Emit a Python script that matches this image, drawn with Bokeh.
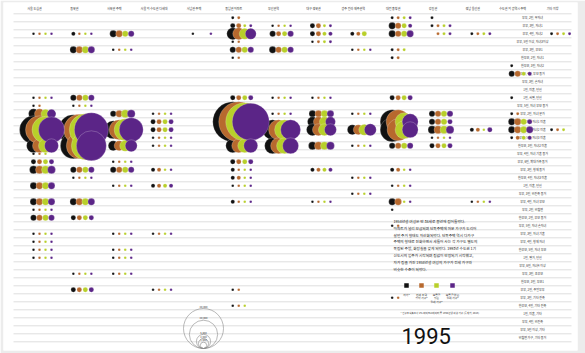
import math
from bokeh.plotting import figure
from bokeh.models import Range1d
from bokeh.core.properties import value
from bokeh.embed import file_html
from bokeh.resources import INLINE

# ---------------- data ----------------
columns = ["서울 도심권", "동북권", "서북권 주택", "서울 외 수도권 다세대", "서남권 주택",
           "동남권 아파트", "부산권역", "대구 경북권", "광주 전라 제주권역", "대전 충청권",
           "강원권", "경남 울산권", "수도권 외 광역시 주택", "기타 지방"]

row_labels = [
    "부부, 2인, 무자녀", "부부, 3인, 자녀1", "부부, 4인, 자녀2", "부부, 5인 이상, 자녀3이상",
    "부부, 3인, 부모1", "한부모, 2인, 자녀1", "한부모, 3인, 자녀2", "부부, 4인, 부모 동거",
    "부부, 3인, 손자녀", "1인, 미혼, 단신", "1인, 사별, 단신", "부부, 5인, 자녀 부모 동거",
    "부부, 2인, 자녀 분가", "부부, 3인, 자녀1 미혼", "부부, 4인, 자녀2 미혼", "부부, 5인, 자녀3 미혼",
    "한부모, 3인, 자녀2 미혼", "부부, 4인, 자녀 기혼 동거", "부부, 6인, 확대가족 동거", "부부, 3인, 형제 동거",
    "한부모, 4인, 자녀3 미혼", "1인, 이혼, 단신", "부부, 3인, 비친족 동거", "부부, 4인, 자녀 부모",
    "부부, 2인, 비혈연", "한부모, 2인, 부모 동거", "부부, 5인, 자녀 손자녀", "부부, 3인, 자녀 기혼",
    "부부, 4인, 형제 자녀", "한부모, 5인, 자녀 부모", "1인, 별거, 단신", "부부, 6인, 자녀4 이상",
    "부부, 3인, 조부모", "한부모, 3인, 부모1", "부부, 2인, 주말부부", "부부, 3인, 기타 친족",
    "한부모, 4인, 기타 친족", "1인, 미혼, 기타", "부부, 4인, 비친족", "부부, 5인 이상, 기타",
    "비혈연 가구, 기타 동거",
]

series_names = [["자가*"], ["전세 주택", "임차 가구*"], ["보증금", "있는", "월세 가구*"], ["보증금 없는", "월세 가구*"]]
series_colors = ["#111111", "#b7692e", "#b8cf2a", "#5b2587"]

# one entry per (row, column) cell; households in each tenure type
cell_row = [0, 0, 0, 1, 1, 1, 1, 1,
            2, 2, 2, 2, 2, 2, 2, 2, 2, 2, 2, 2,
            3, 3, 4, 4, 4, 4, 4, 4, 5, 5, 6, 7,
            10, 10, 10, 10, 10, 10, 10, 11, 11, 11,
            12, 12, 12, 12, 12, 12, 12, 12,
            13, 13, 13, 13, 13, 13,
            14, 14, 14, 14, 14, 14, 14, 14, 14, 14, 14, 14,
            15, 15, 15,
            16, 16, 16, 16, 16, 16, 16, 16, 16, 16,
            17, 18, 18, 18, 19, 19, 19, 19, 19, 19, 19,
            20, 20, 20, 21, 21, 21, 21, 21, 22,
            23, 23, 23, 23, 23, 23, 24, 24, 25, 25, 26,
            27, 27, 27, 28, 29, 29, 30, 30, 32, 32,
            34, 34, 34, 35, 36]
cell_col = [6, 10, 11, 6, 7, 8, 10, 11,
            1, 2, 3, 5, 6, 7, 8, 9, 10, 11, 12, 14,
            6, 8, 2, 3, 6, 7, 9, 10, 6, 10, 13, 13,
            1, 2, 6, 7, 8, 10, 13, 1, 2, 6,
            1, 3, 4, 7, 8, 9, 11, 13,
            4, 6, 8, 10, 11, 13,
            1, 2, 3, 4, 7, 8, 9, 10, 11, 12, 13, 14,
            4, 11, 13,
            1, 2, 3, 4, 6, 7, 8, 9, 10, 11,
            1, 1, 3, 6, 1, 2, 3, 4, 6, 8, 10,
            2, 6, 9, 1, 3, 4, 6, 10, 9,
            1, 2, 6, 8, 10, 12, 1, 10, 1, 2, 10,
            1, 3, 4, 1, 1, 3, 1, 3, 2, 3,
            2, 4, 6, 10, 6]
own = [220, 220, 220, 620, 170, 620, 1200, 220,
       170, 400, 1200, 170, 3600, 900, 620, 400, 1200, 0, 220, 220,
       170, 170, 1200, 170, 900, 1200, 170, 220, 170, 220, 220, 900,
       170, 900, 620, 170, 170, 620, 220, 170, 170, 170,
       2500, 900, 170, 170, 1200, 170, 900, 220,
       620, 40000, 2500, 14400, 900, 1200,
       19600, 22500, 8100, 620, 10000, 3600, 2500, 14400, 1600, 400, 1200, 220,
       170, 170, 220,
       4900, 16900, 2500, 170, 4900, 6400, 1600, 170, 900, 620,
       170, 620, 170, 620, 1600, 900, 900, 400, 400, 400, 400,
       170, 400, 170, 1200, 170, 400, 170, 170, 170,
       1200, 1200, 400, 170, 1200, 170, 170, 170, 900, 620, 170,
       170, 170, 170, 170, 170, 170, 170, 170, 170, 170,
       620, 170, 170, 170, 170]
jeonse = [220, 220, 0, 620, 170, 620, 900, 220,
          170, 170, 1200, 0, 3600, 620, 620, 400, 900, 220, 220, 220,
          170, 220, 1200, 170, 900, 900, 170, 220, 170, 220, 0, 900,
          170, 900, 620, 170, 170, 620, 0, 170, 170, 170,
          2500, 1200, 170, 170, 1200, 170, 900, 220,
          620, 40000, 2500, 14400, 900, 1200,
          19600, 24000, 10000, 620, 10000, 3600, 2500, 12100, 1600, 400, 1200, 220,
          170, 170, 400,
          4900, 16900, 2500, 170, 4900, 6400, 1600, 170, 900, 620,
          170, 620, 170, 620, 1600, 900, 900, 400, 170, 400, 400,
          170, 400, 170, 1200, 170, 400, 170, 170, 170,
          1200, 1200, 170, 170, 1200, 170, 170, 0, 900, 620, 170,
          170, 170, 170, 170, 170, 170, 170, 170, 170, 170,
          620, 170, 170, 170, 170]
monthly_dep = [0, 220, 0, 220, 170, 220, 620, 220,
               170, 170, 900, 0, 3000, 620, 400, 620, 900, 220, 220, 220,
               0, 220, 1200, 170, 900, 900, 170, 220, 0, 0, 0, 400,
               170, 900, 620, 170, 170, 620, 0, 0, 170, 170,
               2000, 1600, 170, 170, 1200, 170, 900, 0,
               620, 36100, 2500, 8100, 900, 900,
               18200, 25600, 12100, 620, 10000, 3600, 3000, 8100, 1600, 170, 1200, 220,
               170, 170, 400,
               4900, 19600, 3000, 170, 4900, 6400, 1600, 170, 900, 620,
               170, 620, 170, 620, 1600, 900, 900, 170, 170, 400, 170,
               170, 170, 170, 1200, 170, 400, 170, 170, 170,
               1200, 1200, 170, 170, 170, 170, 170, 0, 900, 620, 0,
               170, 170, 170, 170, 170, 170, 170, 170, 170, 170,
               620, 170, 0, 0, 170]
monthly_nodep = [0, 220, 0, 220, 170, 220, 400, 220,
                 170, 170, 900, 170, 3000, 900, 400, 0, 1200, 220, 220, 220,
                 0, 220, 1200, 170, 900, 900, 170, 0, 0, 0, 0, 400,
                 170, 900, 620, 170, 170, 620, 0, 0, 170, 170,
                 2000, 1600, 170, 170, 1200, 170, 900, 0,
                 620, 34200, 2500, 6400, 620, 620,
                 16900, 28900, 14400, 620, 10000, 3600, 3600, 6400, 1600, 620, 1200, 0,
                 170, 170, 400,
                 4900, 22500, 3600, 170, 4900, 6400, 1600, 170, 900, 620,
                 0, 620, 170, 620, 1600, 900, 900, 170, 170, 400, 170,
                 170, 170, 170, 1200, 170, 400, 170, 170, 170,
                 1200, 1200, 170, 170, 170, 170, 170, 0, 900, 620, 0,
                 170, 170, 170, 170, 170, 170, 170, 170, 170, 170,
                 620, 170, 0, 0, 0]

size_legend_values = [40000, 20000, 5000, 2500, 1000]
size_legend_labels = ["40,000", "20,000", "5,000", "2,500", "1,000"]

paragraph = [
    "1958년생 여성은 만 38세로 중년에 접어들었다.",
    "아파트가 널리 보급되며 단독주택에 머문 가구가 도리어",
    "살던 주거 형태도 자산화되었다. 단독주택 역시 다가구",
    "주택의 형태로 진화하면서 세들어 사는 각 가구도 별도의",
    "독립된 주방, 화장실을 갖게 되었다. 1993년 수도권 1기",
    "신도시의 입주가 시작되며 집값이 안정되기 시작했고,",
    "자가 집을 가진 1958년생 여성의 가구가 전세 가구와",
    "비슷한 수준이 되었다.",
]
footnote = "* 인구주택총조사 2% 마이크로데이터 중 1958년생 여성 가구 (통계청, 2016)"
year_label = "1995"

# ---------------- layout helpers ----------------
X0, DX = 33.0, 39.85     # pixel x of first column, column spacing
Y0, DY = 17.3, 8.0       # pixel y of first row, row spacing
OFF = 6.0                # pixel offset between the four tenure circles
KR = value("Noto Sans CJK KR")


def px_x(px):
    return (px - X0) / DX


def px_y(py):
    return (py - Y0) / DY


def rad(v):
    return math.sqrt(v) / 10.0


W, H = 585, 353
p = figure(width=W, height=H, output_backend="svg", toolbar_location=None,
           x_axis_location=None, y_axis_location=None,
           x_range=Range1d(px_x(3), px_x(577)), y_range=Range1d(px_y(350), px_y(2)),
           min_border_left=3, min_border_right=8, min_border_top=2, min_border_bottom=3)
p.border_fill_color = "#ececec"
p.background_fill_color = "#ffffff"
p.outline_line_color = None
p.xgrid.visible = False
p.ygrid.visible = False

# row separator lines
n_rows = len(row_labels)
ys = [k - 0.5 for k in range(n_rows + 1)]
p.segment(x0=[px_x(13)] * len(ys), x1=[px_x(571)] * len(ys), y0=ys, y1=ys,
          line_color="#dedede", line_width=1)

# column headers
p.text(x=[i + px_x(34) for i in range(len(columns))], y=[px_y(8.5)] * len(columns), text=columns,
       text_font=KR, text_font_size=value("3px"), text_color="#333333",
       text_align="center", text_baseline="middle")

# row labels
p.text(x=[px_x(532)] * n_rows, y=list(range(n_rows)), text=row_labels,
       text_font=KR, text_font_size=value("3px"), text_color="#333333",
       text_align="center", text_baseline="middle")

# circles, one layer per tenure type
for j, vals in enumerate([own, jeonse, monthly_dep, monthly_nodep]):
    xs, yv, sz = [], [], []
    for r, c, v in zip(cell_row, cell_col, vals):
        if v > 0:
            xs.append(c - 1 + j * OFF / DX)
            yv.append(r)
            sz.append(2 * rad(v))
    p.scatter(x=xs, y=yv, size=sz, marker="circle", fill_color=series_colors[j],
              line_color="white", line_alpha=0.45, line_width=0.5)

# paragraph
para_y = [220.8 + 6.85 * i for i in range(len(paragraph))]
p.text(x=[px_x(393)] * len(paragraph), y=[px_y(v) for v in para_y], text=paragraph,
       text_font=KR, text_font_size=value("3.7px"), text_color="#222222",
       text_align="left", text_baseline="middle")

# tenure legend
leg_x = [406, 421, 436, 452]
p.scatter(x=[px_x(v) for v in leg_x], y=[px_y(285)] * 4, marker="square", size=4.5,
          fill_color=series_colors, line_color=None)
lx, ly, lt = [], [], []
for xpx, lines in zip(leg_x, series_names):
    for i, t in enumerate(lines):
        lx.append(px_x(xpx))
        ly.append(px_y(294 + 3.6 * i))
        lt.append(t)
p.text(x=lx, y=ly, text=lt, text_font=KR, text_font_size=value("2.8px"), text_color="#333333",
       text_align="center", text_baseline="middle")

# footnote
p.text(x=[px_x(400)], y=[px_y(312)], text=[footnote], text_font=KR, text_font_size=value("2.5px"),
       text_color="#333333", text_align="left", text_baseline="middle")

# year
p.text(x=[px_x(401)], y=[px_y(335)], text=[year_label], text_font=value("Roboto"),
       text_font_size=value("22px"), text_color="#111111", text_align="left",
       text_baseline="middle")

# size legend (nested circles, bottom aligned)
cx, base = 203, 348
sr = [rad(v) for v in size_legend_values]
p.scatter(x=[px_x(cx)] * len(sr), y=[px_y(base - r) for r in sr], size=[2 * r for r in sr],
          marker="circle", fill_color=None, line_color="#8a8a8a", line_width=0.6)
p.text(x=[px_x(cx)] * len(sr), y=[px_y(base - 2 * r - 0.8) for r in sr], text=size_legend_labels,
       text_font=KR, text_font_size=value("2.6px"), text_color="#444444",
       text_align="center", text_baseline="bottom")

open("out.html", "w").write(file_html(p, INLINE))
